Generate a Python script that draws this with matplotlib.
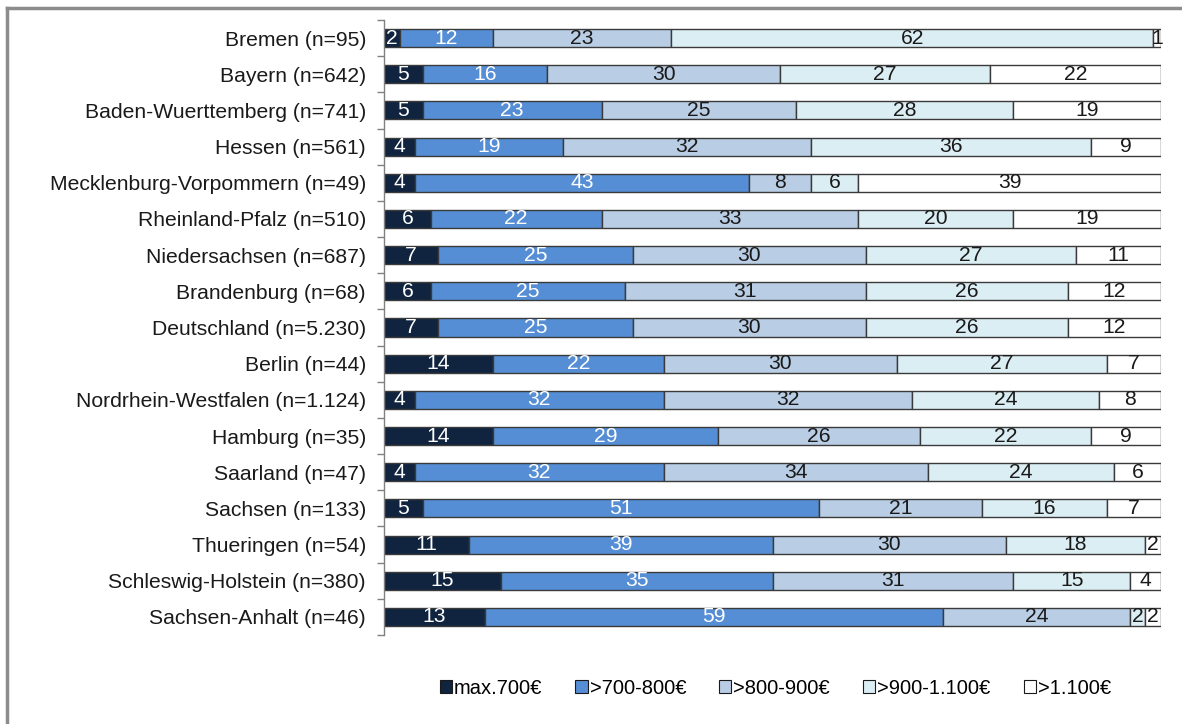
import matplotlib
matplotlib.use("Agg")
import matplotlib.pyplot as plt
from matplotlib.lines import Line2D
import numpy as np

plt.rcParams['font.family'] = ['Liberation Sans', 'DejaVu Sans']

categories = [
    "Bremen (n=95)", "Bayern (n=642)", "Baden-Wuerttemberg (n=741)", "Hessen (n=561)",
    "Mecklenburg-Vorpommern (n=49)", "Rheinland-Pfalz (n=510)", "Niedersachsen (n=687)",
    "Brandenburg (n=68)", "Deutschland (n=5.230)", "Berlin (n=44)",
    "Nordrhein-Westfalen (n=1.124)", "Hamburg (n=35)", "Saarland (n=47)",
    "Sachsen (n=133)", "Thueringen (n=54)", "Schleswig-Holstein (n=380)",
    "Sachsen-Anhalt (n=46)",
]
series_names = ["max.700€", ">700-800€", ">800-900€", ">900-1.100€", ">1.100€"]
max700 =    [2, 5, 5, 4, 4, 6, 7, 6, 7, 14, 4, 14, 4, 5, 11, 15, 13]
s700_800 =  [12, 16, 23, 19, 43, 22, 25, 25, 25, 22, 32, 29, 32, 51, 39, 35, 59]
s800_900 =  [23, 30, 25, 32, 8, 33, 30, 31, 30, 30, 32, 26, 34, 21, 30, 31, 24]
s900_1100 = [62, 27, 28, 36, 6, 20, 27, 26, 26, 27, 24, 22, 24, 16, 18, 15, 2]
s1100 =     [1, 22, 19, 9, 39, 19, 11, 12, 12, 7, 8, 9, 6, 7, 2, 4, 2]

series = [max700, s700_800, s800_900, s900_1100, s1100]
colors = ["#10243f", "#558ed5", "#b9cde5", "#dbeef4", "#ffffff"]
text_colors = ["white", "white", "#1a1a1a", "#1a1a1a", "#1a1a1a"]

FS = 15.2

fig = plt.figure(figsize=(11.82, 7.24), dpi=100)
ax = fig.add_axes([384/1182, 1 - 635/724, (1161-384)/1182, (635-20)/724])

n = len(categories)
y = np.arange(n)
left = np.zeros(n)
for vals, col, tcol, name in zip(series, colors, text_colors, series_names):
    vals = np.array(vals, dtype=float)
    ax.barh(y, vals, left=left, height=0.5, color=col, edgecolor="#3a3a3a",
            linewidth=1.0, label=name)
    for yi, l, v in zip(y, left, vals):
        ax.text(l + v / 2, yi, f"{int(v)}", ha="center", va="center",
                color=tcol, fontsize=FS)
    left += vals

ax.set_xlim(0, 100)
ax.set_ylim(n - 0.5, -0.5)
ax.set_yticks(y)
ax.set_yticklabels(categories, fontsize=FS, color="#1a1a1a")
ax.tick_params(axis="y", which="major", length=0, pad=13)
ax.set_yticks(np.arange(-0.5, n, 1), minor=True)
ax.tick_params(axis="y", which="minor", length=5, color="#808080", width=1)
ax.set_xticks([])
for s in ["top", "right", "bottom"]:
    ax.spines[s].set_visible(False)
ax.spines["left"].set_color("#808080")
ax.spines["left"].set_linewidth(1.0)

leg = fig.legend(loc="center", bbox_to_anchor=(0.656, 1 - 688/724), ncol=5,
                 frameon=False, fontsize=14.5, handlelength=0.6, handleheight=0.6,
                 handletextpad=0.1, columnspacing=1.65)
for h in leg.legend_handles:
    h.set_edgecolor("#1a1a1a")
    h.set_linewidth(0.8)

# outer frame lines (top and left)
fig.add_artist(Line2D([7/1182, 1], [1 - 8/724, 1 - 8/724], color="#8c8c8c", lw=2.5,
                      transform=fig.transFigure))
fig.add_artist(Line2D([7/1182, 7/1182], [0, 1 - 8/724], color="#8c8c8c", lw=2.5,
                      transform=fig.transFigure))

fig.savefig("out.png", dpi=100)
